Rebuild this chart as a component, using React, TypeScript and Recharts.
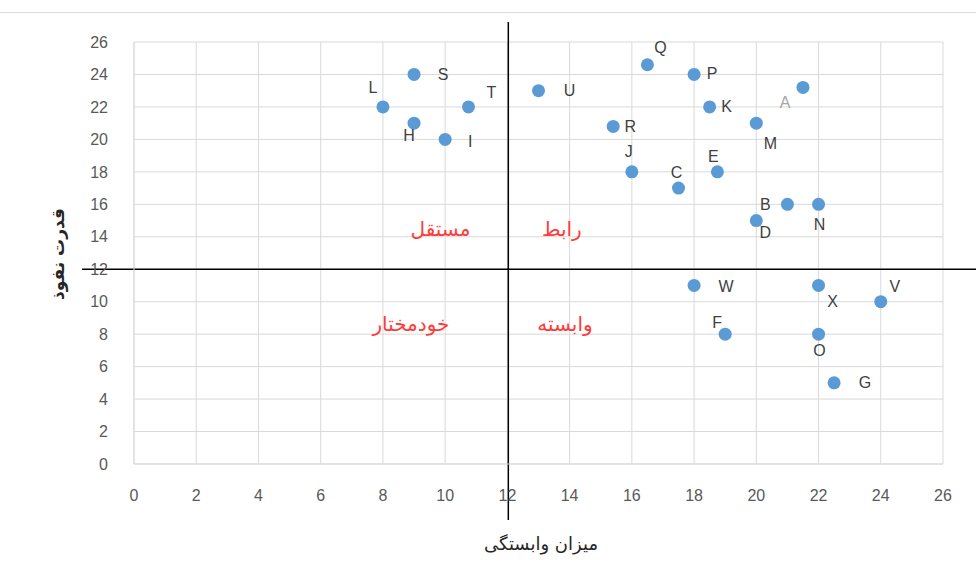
import { ScatterChart, Scatter, XAxis, YAxis, CartesianGrid, ReferenceLine, ReferenceDot, LabelList } from 'recharts';

// factor codes and their coordinates (dependence, influence)
const factorNames = ['A', 'B', 'C', 'D', 'E', 'F', 'G', 'H', 'I', 'J', 'K', 'L', 'M', 'N', 'O', 'P', 'Q', 'R', 'S', 'T', 'U', 'V', 'W', 'X'];
const dependence = [21.5, 21, 17.5, 20, 18.75, 19, 22.5, 9, 10, 16, 18.5, 8, 20, 22, 22, 18, 16.5, 15.4, 9, 10.75, 13, 24, 18, 22];
const influence = [23.2, 16, 17, 15, 18, 8, 5, 21, 20, 18, 22, 22, 21, 16, 8, 24, 24.6, 20.8, 24, 22, 23, 10, 11, 11];

const axisTicks = [0, 2, 4, 6, 8, 10, 12, 14, 16, 18, 20, 22, 24, 26];

const quadrantNames = ['مستقل', 'رابط', 'خودمختار', 'وابسته'];
const quadrantX = [9.85, 13.75, 8.9, 13.85];
const quadrantY = [14.5, 14.5, 8.6, 8.6];

// where each point's label sits relative to its dot (px)
const labelOffset: Record<string, [number, number]> = {
  A: [-18, 15], B: [-22, 0], C: [-2, -16], D: [9, 12], E: [-4, -15], F: [-8, -12],
  G: [31, 0], H: [-5, 12], I: [25, 2], J: [-3, -20], K: [17, 0], L: [-10, -19],
  M: [14, 20], N: [1, 20], O: [1, 16], P: [18, -1], Q: [13, -17], R: [17, 0],
  S: [29, 0], T: [23, -14], U: [31, 0], V: [14, -15], W: [32, 1], X: [14, 16],
};

const data = factorNames.map((name, i) => ({ name, x: dependence[i], y: influence[i] }));

const tickStyle = { fill: '#595959', fontSize: 16, fontFamily: 'Liberation Sans, Arial, sans-serif' };

const Dot = (props: any) => <circle cx={props.cx} cy={props.cy} r={6.5} fill="#5B9BD5" />;

const PointLabel = (props: any) => {
  const { x, y, width, height, value } = props;
  const off = labelOffset[value] || [15, 0];
  const cx = x + width / 2;
  const cy = y + height / 2;
  return (
    <text
      x={cx + off[0]}
      y={cy + off[1]}
      textAnchor="middle"
      dominantBaseline="central"
      fontSize={16}
      fontFamily="Liberation Sans, Arial, sans-serif"
      fill={value === 'A' ? '#a6a6a6' : '#404040'}
    >
      {value}
    </text>
  );
};

export default function App() {
  return (
    <div style={{ position: 'absolute', left: 0, top: 0, width: 976, height: 584, background: '#fff' }}>
      <div style={{ position: 'absolute', left: 0, top: 12, width: 976, height: 1, background: '#d9d9d9' }} />
      <ScatterChart width={976} height={584} margin={{ top: 42, right: 33, bottom: 90, left: 94 }}>
        <CartesianGrid stroke="#d9d9d9" strokeWidth={1} />
        <XAxis
          type="number"
          dataKey="x"
          domain={[0, 26]}
          ticks={axisTicks}
          interval={0}
          height={30}
          tickLine={false}
          axisLine={{ stroke: '#d9d9d9' }}
          tick={tickStyle}
          tickMargin={20}
          allowDataOverflow
        />
        <YAxis
          type="number"
          dataKey="y"
          domain={[0, 26]}
          ticks={axisTicks}
          interval={0}
          width={40}
          tickLine={false}
          axisLine={{ stroke: '#d9d9d9' }}
          tick={tickStyle}
          tickMargin={20}
          allowDataOverflow
        />
        {quadrantNames.map((q, i) => (
          <ReferenceDot
            key={q}
            x={quadrantX[i]}
            y={quadrantY[i]}
            r={0}
            ifOverflow="visible"
            shape={(p: any) => (
              <text x={p.cx} y={p.cy} textAnchor="middle" dominantBaseline="central" fontSize={20} fontFamily="DejaVu Sans, sans-serif" fill="#ff3b3b">
                {q}
              </text>
            )}
          />
        ))}
        <ReferenceLine
          segment={[{ x: -1.67, y: 12 }, { x: 27.1, y: 12 }]}
          stroke="#000"
          strokeWidth={1.5}
          ifOverflow="visible"
        />
        <ReferenceLine
          segment={[{ x: 12.03, y: 27.23 }, { x: 12.03, y: -3.45 }]}
          stroke="#000"
          strokeWidth={1.5}
          ifOverflow="visible"
        />
        <Scatter data={data} shape={Dot} isAnimationActive={false}>
          <LabelList dataKey="name" content={PointLabel} />
        </Scatter>
      </ScatterChart>
      <div
        style={{
          position: 'absolute', left: 58, top: 254, transform: 'translate(-50%, -50%) rotate(-90deg)',
          fontFamily: 'DejaVu Sans, sans-serif', fontWeight: 'bold', fontSize: 17, color: '#262626', whiteSpace: 'nowrap', direction: 'rtl',
        }}
      >
        قدرت نفوذ
      </div>
      <div
        style={{
          position: 'absolute', left: 541, top: 543, transform: 'translate(-50%, -50%)',
          fontFamily: 'DejaVu Sans, sans-serif', fontSize: 18, color: '#262626', whiteSpace: 'nowrap', direction: 'rtl',
        }}
      >
        میزان وابستگی
      </div>
    </div>
  );
}
